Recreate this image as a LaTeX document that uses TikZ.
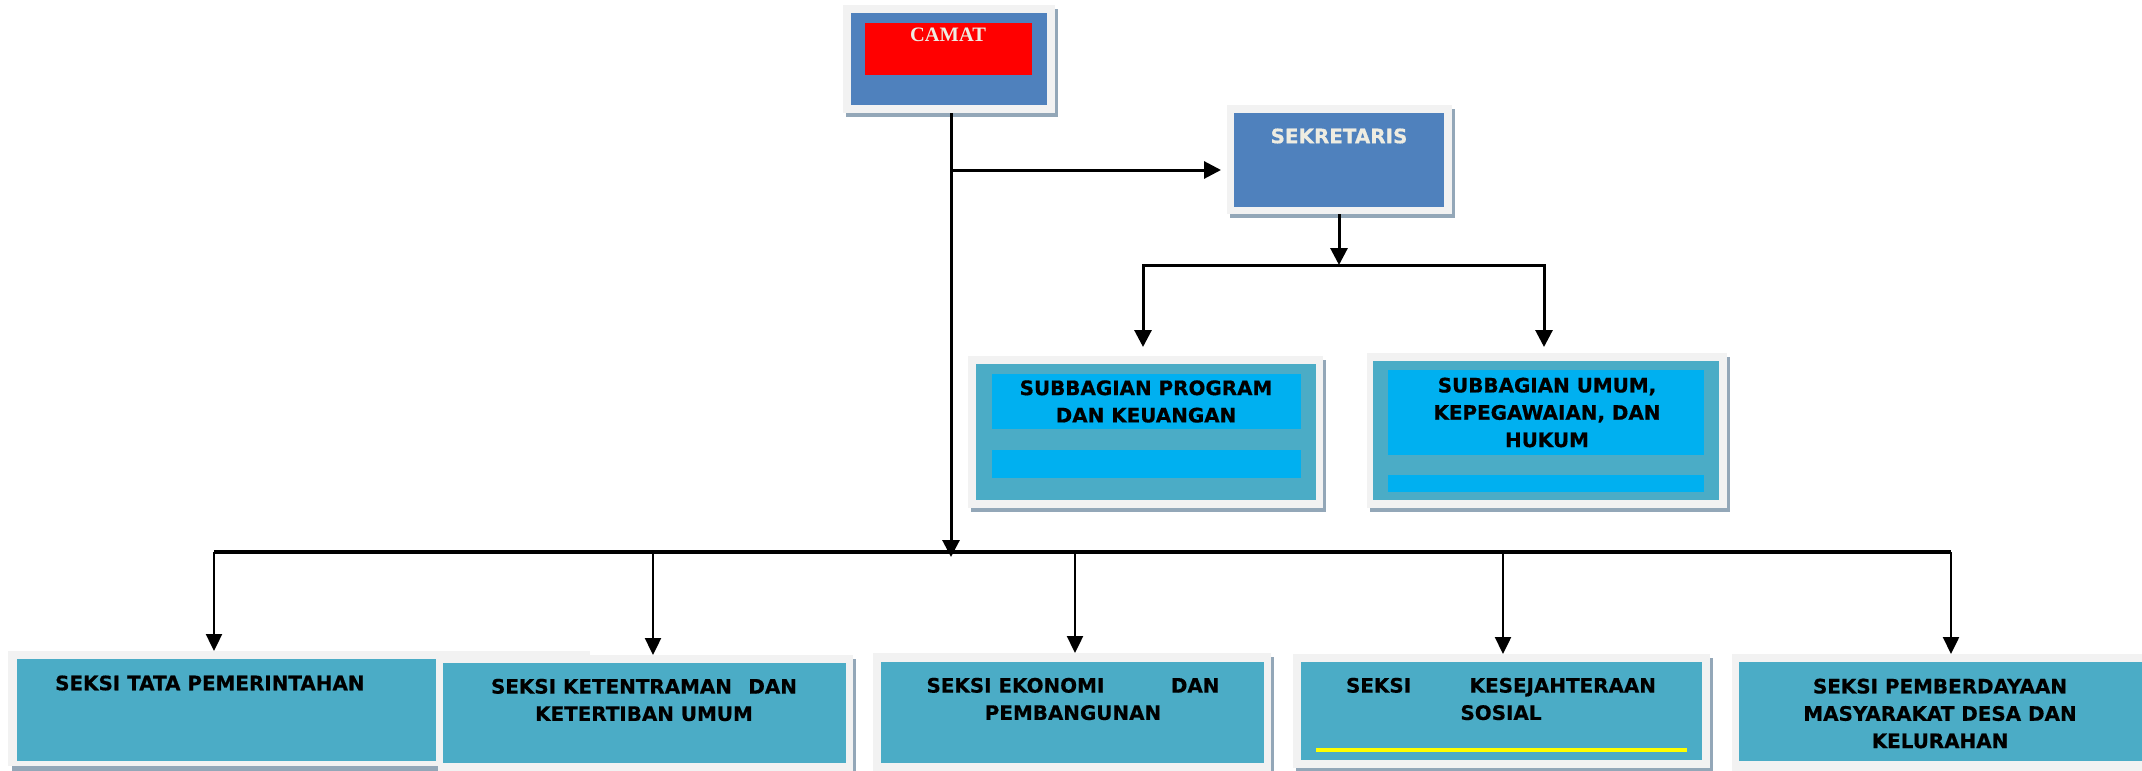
\documentclass[tikz,border=0pt]{standalone}
\usepackage{fontspec}
\setmainfont{DejaVu Sans}[BoldFeatures={FakeBold=0.6}]
\newfontfamily\serifbold{Liberation Serif}
\usetikzlibrary{arrows.meta}
\definecolor{framegrey}{HTML}{F2F2F2}
\definecolor{shadowc}{HTML}{93A7B8}
\definecolor{officeblue}{HTML}{4F81BD}
\definecolor{tealc}{HTML}{4BACC6}
\definecolor{cyanc}{HTML}{00B0F0}
\definecolor{creamc}{HTML}{EEECE1}
\definecolor{redc}{HTML}{FF0000}
\definecolor{yellowc}{HTML}{FFFF00}
\newcommand\rectnode[6]{\node[rectbox, fill=#6, minimum width=#4pt, minimum height=#5pt] (#1) at (#2,#3) {};}
\begin{document}
\begin{tikzpicture}[x=1pt,y=-1pt,
  rectbox/.style={inner sep=0pt, outer sep=0pt, anchor=north west, draw=none, shape=rectangle},
  lbl/.style={inner sep=0pt, align=center, font=\bfseries\fontsize{19.9}{27.3}\selectfont},
  conn/.style={line width=3pt, -{Triangle[length=17pt,width=17pt]}},
  drop/.style={line width=2.4pt, -{Triangle[length=17pt,width=16pt]}},
  plain/.style={line width=3pt}
]
\useasboundingbox[fill=white] (0,0) rectangle (2142,771);

% CAMAT
\rectnode{camatS}{846}{9}{212}{108}{shadowc}
\rectnode{camatF}{843}{5}{212}{108}{framegrey}
\rectnode{camatB}{851}{13}{196}{92}{officeblue}
\rectnode{camatR}{865}{23}{167}{52}{redc}
\node[inner sep=0pt, text=creamc, font=\serifbold\bfseries\fontsize{20.5}{24}\selectfont] (camatT) at (948,35) {CAMAT};

% SEKRETARIS
\rectnode{sekS}{1230}{109}{225}{109}{shadowc}
\rectnode{sekF}{1227}{105}{225}{109}{framegrey}
\rectnode{sekB}{1234}{113}{210}{94}{officeblue}
\node[lbl, text=creamc] (sekT) at (1339,136) {SEKRETARIS};

% SUBBAGIAN PROGRAM
\rectnode{spS}{971}{360}{355}{152}{shadowc}
\rectnode{spF}{968}{356}{355}{152}{framegrey}
\rectnode{spB}{976}{364}{340}{136}{tealc}
\rectnode{spC1}{992}{374}{309}{55}{cyanc}
\rectnode{spC2}{992}{450}{309}{28}{cyanc}
\node[lbl] (spT) at (1146,401.5) {SUBBAGIAN PROGRAM\\DAN KEUANGAN};

% SUBBAGIAN UMUM
\rectnode{suS}{1370}{357}{360}{155}{shadowc}
\rectnode{suF}{1367}{353}{360}{155}{framegrey}
\rectnode{suB}{1373}{361}{346}{139}{tealc}
\rectnode{suC1}{1388}{370}{316}{85}{cyanc}
\rectnode{suC2}{1388}{475}{316}{17}{cyanc}
\node[lbl] (suT) at (1547,412.5) {SUBBAGIAN UMUM,\\KEPEGAWAIAN, DAN\\HUKUM};

% SEKSI TATA PEMERINTAHAN
\rectnode{b1S}{12}{660}{430}{115}{shadowc}
\rectnode{b1F}{8}{651}{582}{115}{framegrey}
\rectnode{b1B}{17}{659}{419}{102}{tealc}
\node[lbl, anchor=west] (b1T) at (55,683) {SEKSI TATA PEMERINTAHAN};

% SEKSI KETENTRAMAN
\rectnode{b2S}{441}{659}{415}{120}{shadowc}
\rectnode{b2F}{438}{655}{415}{120}{framegrey}
\rectnode{b2B}{443}{663}{403}{100}{tealc}
\node[lbl] (b2T) at (644,700) {\makebox[306pt]{SEKSI KETENTRAMAN\hfill DAN}\\KETERTIBAN UMUM};

% SEKSI EKONOMI
\rectnode{b3S}{876}{657}{398}{122}{shadowc}
\rectnode{b3F}{873}{653}{398}{122}{framegrey}
\rectnode{b3B}{881}{662}{383}{101}{tealc}
\node[lbl] (b3T) at (1073,699) {\makebox[293pt]{SEKSI EKONOMI\hfill DAN}\\PEMBANGUNAN};

% SEKSI KESEJAHTERAAN
\rectnode{b4S}{1296}{658}{417}{114}{shadowc}
\rectnode{b4F}{1293}{654}{417}{114}{framegrey}
\rectnode{b4B}{1301}{662}{401}{98}{tealc}
\rectnode{b4Y}{1316}{748}{371}{4}{yellowc}
\node[lbl] (b4T) at (1501,699) {\makebox[310pt]{SEKSI\hfill KESEJAHTERAAN}\\SOSIAL};

% SEKSI PEMBERDAYAAN
\rectnode{b5S}{1735}{658}{420}{120}{shadowc}
\rectnode{b5F}{1732}{654}{420}{120}{framegrey}
\rectnode{b5B}{1739}{662}{410}{99}{tealc}
\node[lbl] (b5T) at (1940,713.5) {SEKSI PEMBERDAYAAN\\MASYARAKAT DESA DAN\\KELURAHAN};

% connectors
\coordinate (jSek) at (951,170);
\coordinate (jBar) at (951,557);
\draw[conn] (camatF.south -| jSek) -- (jBar);
\draw[conn, shorten >=6pt] (jSek) -- (jSek -| sekF.west);

\coordinate (jSub) at (1339,265);
\draw[conn] (sekF.south -| jSub) -- (jSub);
\coordinate (sL) at (1143,265);
\coordinate (sR) at (1544,265);
\draw[plain, line cap=rect] (sL) -- (sR);
\draw[conn, shorten >=9pt] (sL) -- (sL |- spF.north);
\draw[conn, shorten >=6pt] (sR) -- (sR |- suF.north);

\coordinate (d1) at (214,552);
\coordinate (d2) at (653,552);
\coordinate (d3) at (1075,552);
\coordinate (d4) at (1503,552);
\coordinate (d5) at (1951,552);
\draw[line width=4pt] (d1) -- (d5);
\draw[drop] (d1) -- (d1 |- b1F.north);
\draw[drop] (d2) -- (d2 |- b2F.north);
\draw[drop] (d3) -- (d3 |- b3F.north);
\draw[drop] (d4) -- (d4 |- b4F.north);
\draw[drop] (d5) -- (d5 |- b5F.north);
\end{tikzpicture}
\end{document}
